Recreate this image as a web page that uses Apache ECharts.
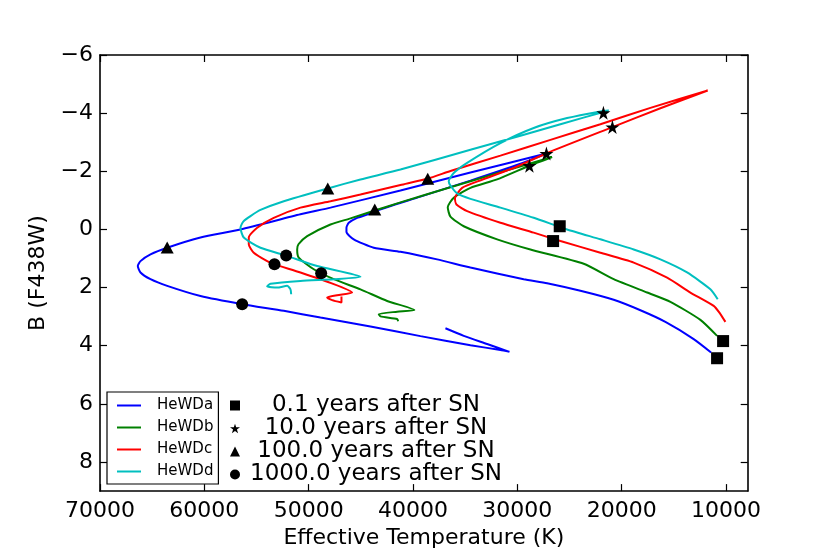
<!DOCTYPE html>
<html><head><meta charset="utf-8">
<script src="https://cdn.jsdelivr.net/npm/echarts@6/dist/echarts.min.js"></script>
<style>html,body{margin:0;padding:0;background:#fff}#c{width:830px;height:554px}</style>
</head><body><div id="c"></div>
<script>
const seriesNames = ['HeWDa', 'HeWDb', 'HeWDc', 'HeWDd'];
const lineColors = ['#0000ff', '#008000', '#ff0000', '#00bfbf'];

// tracks: [Teff (K), B (F438W)]
const trackA = [[11429,4.23],[13096,3.77],[15808,3.18],[18204,2.78],[20763,2.42],[23954,2.11],[27145,1.85],[29387,1.71],[34495,1.31],[37686,1.03],[41203,0.77],[43761,0.63],[45678,0.34],[46378,0.09],[46378,-0.06],[46157,-0.23],[45352,-0.40],[44394,-0.51],[43666,-0.63],[39286,-1.13],[34495,-1.68],[29703,-2.26],[27212,-2.61],[34495,-1.96],[41203,-1.34],[47911,-0.75],[50786,-0.52],[56536,0.00],[60369,0.28],[63560,0.63],[65160,0.86],[66119,1.09],[66377,1.26],[66119,1.48],[65160,1.71],[63560,1.94],[60369,2.29],[56373,2.57],[52386,2.80],[48869,3.03],[44078,3.34],[39286,3.67],[34495,3.98],[31620,4.15],[30758,4.21],[32895,3.94],[35137,3.66],[36891,3.40]];
const trackB = [[10854,3.66],[12454,3.11],[15329,2.49],[17562,2.17],[20762,1.71],[23638,1.18],[28745,0.69],[31936,0.34],[35137,-0.11],[36411,-0.44],[36670,-0.76],[36095,-1.09],[34495,-1.43],[31936,-1.72],[28841,-2.19],[26666,-2.49],[31620,-1.97],[36411,-1.45],[41203,-0.93],[43666,-0.65],[45994,-0.38],[47911,-0.17],[50144,0.23],[50977,0.51],[51102,0.69],[50949,0.97],[49511,1.37],[47595,1.71],[45036,2.06],[42477,2.46],[39861,2.77],[41519,2.83],[43283,2.91],[43120,2.99],[41519,3.08],[41423,3.16]];
const trackC = [[10058,3.18],[10537,2.91],[11179,2.63],[13412,2.17],[15645,1.66],[18845,1.14],[22037,0.80],[25870,0.40],[28429,0.11],[31620,-0.23],[34811,-0.63],[35837,-0.86],[35980,-1.06],[35290,-1.43],[33441,-1.70],[30183,-2.14],[27145,-2.63],[20887,-3.52],[16287,-4.17],[11754,-4.78],[17245,-4.18],[22037,-3.62],[26828,-3.08],[31620,-2.54],[36411,-2.01],[38587,-1.75],[41203,-1.53],[45036,-1.20],[47911,-0.97],[50786,-0.75],[53345,-0.40],[54935,-0.06],[55740,0.28],[55740,0.51],[55261,0.80],[53977,1.09],[53278,1.20],[50786,1.48],[47595,1.88],[45832,2.17],[47269,2.26],[48227,2.34],[47748,2.43],[46857,2.51],[46857,2.31]];
const trackD = [[10796,2.40],[11496,2.06],[13729,1.48],[16287,1.03],[18845,0.69],[22037,0.34],[25228,0.00],[28429,-0.40],[31620,-0.75],[34495,-1.05],[35769,-1.24],[36411,-1.51],[36575,-1.66],[36095,-1.94],[34811,-2.29],[31620,-2.97],[28429,-3.49],[25228,-3.83],[22037,-4.06],[21241,-4.09],[25870,-3.62],[29703,-3.22],[34495,-2.74],[41203,-2.06],[45036,-1.72],[48169,-1.41],[52386,-0.97],[54619,-0.67],[55577,-0.46],[56248,-0.28],[56536,-0.06],[56219,0.28],[54619,0.63],[52156,0.90],[49185,1.26],[45036,1.63],[47595,1.71],[50786,1.77],[53661,1.87],[53977,1.96],[53019,2.00],[52060,1.94],[51744,2.06],[51677,2.23]];

const markerNames = ['0.1 years after SN', '10.0 years after SN', '100.0 years after SN', '1000.0 years after SN'];
const marker01 = [[10855,4.43],[10278,3.84],[26571,0.40],[25937,-0.11]];
const marker10 = [[27212,-2.61],[28841,-2.19],[20887,-3.52],[21750,-4.01]];
const marker100 = [[63560,0.62],[43666,-0.69],[38587,-1.74],[48169,-1.41]];
const marker1000 = [[56373,2.57],[48802,1.51],[53278,1.20],[52156,0.90]];

const xTicks = [70000, 60000, 50000, 40000, 30000, 20000, 10000];
const yTicks = [-6, -4, -2, 0, 2, 4, 6, 8];

const FONT = 'DejaVu Sans';
const STAR = 'path://M50,0L61.2,34.5L97.6,34.5L68.2,55.9L79.4,90.5L50,69.1L20.6,90.5L31.8,55.9L2.4,34.5L38.8,34.5Z';
const tracks = [trackA, trackB, trackC, trackD];
const markerData = [marker01, marker10, marker100, marker1000];
const markerSymbols = ['rect', STAR, 'triangle', 'circle'];
const markerSizes = [12, 14, [13, 12], 12];

const axLine = { show: true, onZero: false, lineStyle: { color: '#000', width: 1.6 } };
function xAx(pos, main) {
  return {
    type: 'value', position: pos, min: 7920, max: 70000, inverse: true,
    name: main ? 'Effective Temperature (K)' : '', nameLocation: 'middle', nameGap: 31,
    nameTextStyle: { fontSize: 22, color: '#000', fontFamily: FONT },
    axisLine: axLine,
    axisTick: { show: true, inside: true, length: 7, customValues: xTicks, lineStyle: { color: '#000', width: 1.2 } },
    axisLabel: { show: main, customValues: xTicks, margin: 9, fontSize: 22, color: '#000', fontFamily: FONT,
      formatter: v => String(v) },
    splitLine: { show: false }
  };
}
function yAx(pos, main) {
  return {
    type: 'value', position: pos, min: -6, max: 9, inverse: true,
    name: main ? 'B (F438W)' : '', nameLocation: 'middle', nameGap: 38, nameRotate: 90,
    nameTextStyle: { fontSize: 22, color: '#000', fontFamily: FONT },
    axisLine: axLine,
    axisTick: { show: true, inside: true, length: 7, customValues: yTicks, lineStyle: { color: '#000', width: 1.2 } },
    axisLabel: { show: main, customValues: yTicks, margin: 7, fontSize: 22, color: '#000', fontFamily: FONT,
      formatter: v => (v < 0 ? '\u2212' + (-v) : String(v)) },
    splitLine: { show: false }
  };
}

const series = [];
tracks.forEach((t, i) => {
  series.push({
    type: 'line', name: seriesNames[i], data: t, xAxisIndex: 0, yAxisIndex: 0,
    symbol: 'none', showSymbol: false, smooth: 0.2, z: 2,
    lineStyle: { color: lineColors[i], width: 2 }, itemStyle: { color: lineColors[i] }
  });
});
markerData.forEach((d, i) => {
  series.push({
    type: 'scatter', name: markerNames[i], data: d, xAxisIndex: 0, yAxisIndex: 0,
    symbol: markerSymbols[i], symbolSize: markerSizes[i], z: 5,
    itemStyle: { color: '#000', opacity: 1 }
  });
});

const chart = echarts.init(document.getElementById('c'), null, { renderer: 'canvas' });
chart.setOption({
  animation: false,
  backgroundColor: '#fff',
  grid: { left: 100, right: 82.3, top: 55, bottom: 61.3, containLabel: false },
  xAxis: [xAx('bottom', true), xAx('top', false)],
  yAxis: [yAx('left', true), yAx('right', false)],
  legend: [
    {
      orient: 'vertical', left: 107, top: 392,
      data: seriesNames.map(n => ({ name: n, icon: 'rect' })), selectedMode: false,
      itemWidth: 24, itemHeight: 2, itemGap: 7, padding: [6, 5, 5, 10],
      borderColor: '#000', borderWidth: 1.2, backgroundColor: '#fff',
      textStyle: { fontSize: 15, lineHeight: 15, color: '#000', fontFamily: FONT, padding: [0, 0, 0, 11] }
    },
    {
      orient: 'vertical', left: 230, top: 394, data: markerNames, selectedMode: false,
      itemWidth: 10, itemHeight: 10, itemGap: 0, padding: 0,
      itemStyle: { opacity: 1 },
      formatter: n => '{c|' + n + '}',
      textStyle: { fontSize: 23, lineHeight: 22, color: '#000', fontFamily: FONT,
        rich: { c: { width: 262, align: 'center', fontSize: 23, lineHeight: 22, color: '#000', fontFamily: FONT } } }
    }
  ],
  series: series
});
</script>
</body></html>
